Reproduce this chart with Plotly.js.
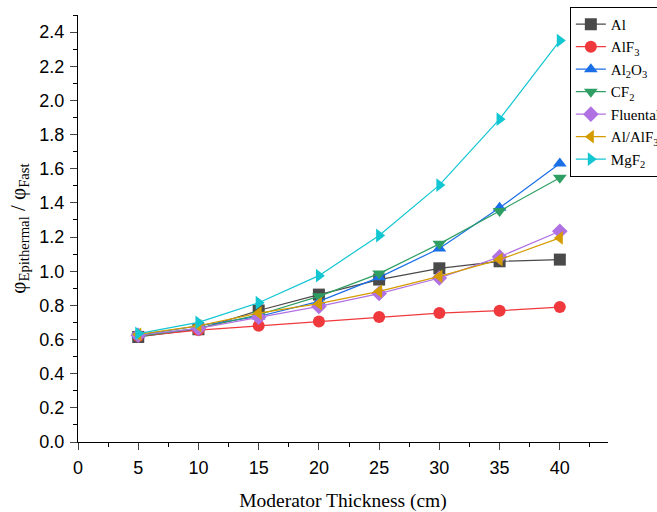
<!DOCTYPE html>
<html><head><meta charset="utf-8">
<script src="https://cdn.plot.ly/plotly-3.0.1.min.js"></script>
<style>body{margin:0;background:#fff}#c{width:657px;height:512px}</style>
</head><body><div id="c"></div>
<script>
const thickness = [5, 10, 15, 20, 25, 30, 35, 40];
const Al      = [0.615, 0.660, 0.770, 0.863, 0.951, 1.017, 1.058, 1.068];
const AlF3    = [0.620, 0.655, 0.680, 0.706, 0.732, 0.755, 0.769, 0.790];
const Al2O3   = [0.625, 0.680, 0.735, 0.823, 0.964, 1.133, 1.371, 1.631];
const CF2     = [0.620, 0.665, 0.745, 0.853, 0.986, 1.160, 1.352, 1.547];
const Fluental= [0.625, 0.665, 0.730, 0.794, 0.869, 0.960, 1.084, 1.234];
const AlAlF3  = [0.630, 0.680, 0.755, 0.810, 0.882, 0.970, 1.068, 1.195];
const MgF2    = [0.635, 0.700, 0.815, 0.974, 1.209, 1.504, 1.890, 2.350];

const series = [
  {name:'Al', y:Al, color:'#4a4a4a', symbol:'square'},
  {name:'AlF<sub>3</sub>', y:AlF3, color:'#f0393c', symbol:'circle'},
  {name:'Al<sub>2</sub>O<sub>3</sub>', y:Al2O3, color:'#1a6ee6', symbol:'triangle-up'},
  {name:'CF<sub>2</sub>', y:CF2, color:'#2e9e62', symbol:'triangle-down'},
  {name:'Fluental', y:Fluental, color:'#b071e2', symbol:'diamond'},
  {name:'Al/AlF<sub>3</sub>', y:AlAlF3, color:'#d49c00', symbol:'triangle-left'},
  {name:'MgF<sub>2</sub>', y:MgF2, color:'#12c6d2', symbol:'triangle-right'}
];
const data = series.map(s => ({
  x: thickness, y: s.y, name: s.name, type:'scatter', mode:'lines+markers',
  line:{color:s.color, width:1.2},
  marker:{color:s.color, symbol:s.symbol, size:12}
}));
const serif = 'Liberation Serif';
const axFont = {family:'Liberation Sans', size:18, color:'#000'};
const layout = {
  width:657, height:512,
  margin:{l:78, r:49, t:15, b:70, autoexpand:false},
  paper_bgcolor:'#fff', plot_bgcolor:'#fff',
  showlegend:true,
  legend:{x:0.928, y:1.019, xanchor:'left', yanchor:'top',
    bordercolor:'#000', borderwidth:1, bgcolor:'#fff',
    font:{family:serif, size:15, color:'#000'},
    tracegroupgap:0},
  xaxis:{range:[0,44], dtick:5, tick0:0, ticks:'outside', ticklen:7, tickwidth:1,
    showline:true, linecolor:'#000', linewidth:1, showgrid:false, zeroline:false,
    tickfont:axFont, ticklabelstandoff:2,
    minor:{dtick:2.5, ticks:'outside', ticklen:4, tickcolor:'#000', showgrid:false},
    title:{text:'Moderator Thickness (cm)', font:{family:serif, size:19.5, color:'#000'}, standoff:16}},
  yaxis:{range:[0,2.5], dtick:0.2, tick0:0, ticks:'outside', ticklen:7, tickwidth:1,
    tickformat:'.1f',
    showline:true, linecolor:'#000', linewidth:1, showgrid:false, zeroline:false,
    tickfont:axFont, ticklabelstandoff:2,
    minor:{dtick:0.1, ticks:'outside', ticklen:4, tickcolor:'#000', showgrid:false},
    title:{text:'φ<sub>Epithermal</sub> / φ<sub>Fast</sub>', font:{family:serif, size:21, color:'#000'}, standoff:8}}
};
Plotly.newPlot('c', data, layout, {displayModeBar:false, staticPlot:true});
</script></body></html>
